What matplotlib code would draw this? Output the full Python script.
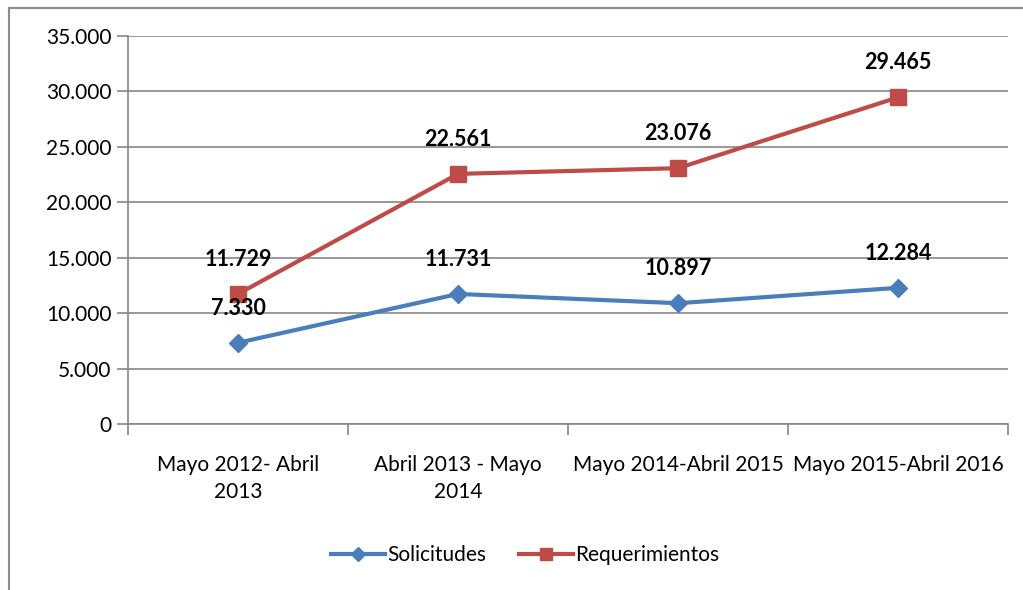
import matplotlib.pyplot as plt
from matplotlib.lines import Line2D

# data
periodos = ['Mayo 2012- Abril\n2013', 'Abril 2013 - Mayo\n2014',
            'Mayo 2014-Abril 2015', 'Mayo 2015-Abril 2016']
solicitudes = [7330, 11731, 10897, 12284]
requerimientos = [11729, 22561, 23076, 29465]

plt.rcParams['font.family'] = ['Lato', 'DejaVu Sans']

def miles(v):
    # thousands separator with a dot
    return f'{int(v):,}'.replace(',', '.')

fig = plt.figure(figsize=(10.23, 5.90), dpi=100)
ax = fig.add_axes([128 / 1023, 1 - 424 / 590, 880 / 1023, 388 / 590])

# outer chart frame (left and top edges are the only visible ones)
fx, fy = 8.5 / 1023, 1 - 7.5 / 590
fig.add_artist(Line2D([fx, fx], [0, fy], transform=fig.transFigure,
                      color='#8c8c8c', linewidth=1.5))
fig.add_artist(Line2D([fx, 1], [fy, fy], transform=fig.transFigure,
                      color='#8c8c8c', linewidth=1.5))

x = list(range(len(periodos)))
ax.plot(x, solicitudes, color='#4a7ebb', linewidth=3, marker='D',
        markersize=9, label='Solicitudes', zorder=3)
ax.plot(x, requerimientos, color='#be4b48', linewidth=3, marker='s',
        markersize=12, label='Requerimientos', zorder=3)

for xi, v in zip(x, solicitudes):
    ax.annotate(miles(v), (xi, v), xytext=(0, 25), textcoords='offset points',
                ha='center', va='center', fontsize=15.5, fontweight='bold')
for xi, v in zip(x, requerimientos):
    ax.annotate(miles(v), (xi, v), xytext=(0, 25), textcoords='offset points',
                ha='center', va='center', fontsize=15.5, fontweight='bold')

ax.set_xlim(-0.5, 3.5)
ax.set_ylim(0, 35000)
ax.set_yticks(range(0, 35001, 5000))
ax.set_yticklabels([miles(v) for v in range(0, 35001, 5000)], fontsize=15)
ax.yaxis.grid(True, color='#868686', linewidth=1.2)
ax.set_axisbelow(True)

ax.set_xticks([i - 0.5 for i in range(len(periodos) + 1)])
ax.set_xticklabels([])
ax.set_xticks(x, minor=True)
ax.set_xticklabels(periodos, minor=True, fontsize=15, linespacing=1.45)
ax.tick_params(axis='x', which='minor', length=0, pad=22)
ax.tick_params(axis='x', which='major', length=8, color='#868686', width=1.2)
ax.tick_params(axis='y', length=8, color='#868686', width=1.2, pad=4)

for s in ['top', 'right']:
    ax.spines[s].set_visible(False)
for s in ['left', 'bottom']:
    ax.spines[s].set_color('#868686')
    ax.spines[s].set_linewidth(1.2)

fig.legend(loc='center', bbox_to_anchor=(525 / 1023, 1 - 555 / 590), ncol=2,
           frameon=False, fontsize=15, handlelength=2.6, handletextpad=0.1,
           columnspacing=1.6, markerscale=0.75)

fig.savefig('out.png', dpi=100)
